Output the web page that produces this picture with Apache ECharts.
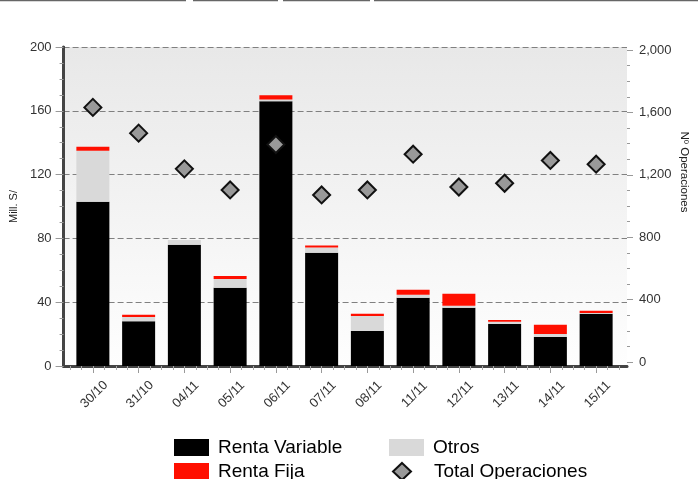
<!DOCTYPE html>
<html>
<head>
<meta charset="utf-8">
<script src="https://cdn.jsdelivr.net/npm/echarts@6/dist/echarts.min.js"></script>
<style>
  html, body { margin: 0; padding: 0; background: #fff; }
  #chart { width: 698px; height: 479px; }
</style>
</head>
<body>
<div id="chart"></div>
<script>
// datos
var fechas = ['30/10', '31/10', '04/11', '05/11', '06/11', '07/11', '08/11', '11/11', '12/11', '13/11', '14/11', '15/11'];
var rentaVariable = [103, 28, 76, 49, 166, 71, 22, 42.8, 36.5, 26.4, 18.2, 32.7];
var otros = [32, 2.7, 3, 5.6, 1.1, 3.3, 9.4, 1.9, 1.2, 1.3, 1.9, 0.6];
var rentaFija = [2.5, 1.5, 0, 1.9, 2.7, 1.3, 1.3, 3.1, 7.6, 1.2, 5.7, 1.3];
var totalOperaciones = [1632, 1467, 1238, 1103, 1394, 1071, 1103, 1332, 1122, 1146, 1292, 1268];
var ticksMillones = [0, 200, 40];
var ticksOperaciones = [0, 2000, 400];

var fuente = 'Liberation Sans, Arial, sans-serif';
var myChart = echarts.init(document.getElementById('chart'));

/*una leyenda por item, para fijar las columnas*/
function leyenda(nombre, left, top, icono, ancho, sangria) {
    return {
        left: left, top: top, padding: 0,
        itemWidth: ancho, itemHeight: 17,
        icon: icono,
        textStyle: { fontSize: 19, color: '#000', padding: [0, 0, 0, sangria] },
        data: [nombre]
    };
}

var option = {
    animation: false,
    textStyle: { fontFamily: fuente },
    graphic: [
        { type: 'line', shape: { x1: 0, y1: 0.5, x2: 186, y2: 0.5 }, style: { stroke: '#666', lineWidth: 1.5 } },
        { type: 'line', shape: { x1: 193, y1: 0.5, x2: 278, y2: 0.5 }, style: { stroke: '#666', lineWidth: 1.5 } },
        { type: 'line', shape: { x1: 283, y1: 0.5, x2: 370, y2: 0.5 }, style: { stroke: '#666', lineWidth: 1.5 } },
        { type: 'line', shape: { x1: 374, y1: 0.5, x2: 698, y2: 0.5 }, style: { stroke: '#666', lineWidth: 1.5 } },
        {
            type: 'text', x: 684, y: 172, rotation: -Math.PI / 2,
            style: { text: 'Nº Operaciones', font: '11.5px ' + fuente, fill: '#222', align: 'center', verticalAlign: 'middle' }
        }
    ],
    legend: [
        leyenda('Renta Variable', 174, 438, 'rect', 35, 4),
        leyenda('Renta Fija', 174, 462, 'rect', 35, 4),
        leyenda('Otros', 389, 438, 'rect', 35, 4),
        leyenda('Total Operaciones', 392, 462, 'diamond', 18, 18)
    ],
    grid: [
        // marco con fondo degradado
        {
            left: 61, right: 71, top: 47, bottom: 113, show: true, borderWidth: 0,
            backgroundColor: new echarts.graphic.LinearGradient(0, 0, 0, 1, [
                { offset: 0, color: '#e8e8e8' },
                { offset: 1, color: '#fefefe' }
            ])
        },
        // barras
        { left: 70, right: 79, top: 47, bottom: 113 },
        // rombos (eje derecho)
        { left: 70, right: 79, top: 50, bottom: 117 },
        // ticks menores del eje x
        { left: 70, right: 79, top: 47, bottom: 113 }
    ],
    xAxis: [
        {
            gridIndex: 0, type: 'value', position: 'top', min: 0, max: 1,
            axisLine: { show: true, lineStyle: { color: '#000', width: 1.5 } },
            axisTick: { show: false }, axisLabel: { show: false }, splitLine: { show: false }
        },
        {
            gridIndex: 0, type: 'value', position: 'bottom', min: 0, max: 1,
            axisLine: { show: true, lineStyle: { color: '#444', width: 3 } },
            axisTick: { show: false }, axisLabel: { show: false }, splitLine: { show: false }
        },
        {
            gridIndex: 1, type: 'category', data: fechas,
            axisLine: { show: false },
            axisTick: { show: true, alignWithLabel: true, length: 7, lineStyle: { color: '#999' } },
            axisLabel: {
                rotate: 45, align: 'center', verticalAlign: 'middle', margin: 30,
                fontSize: 13, color: '#333', interval: 0, padding: [0, 0, 0, 4]
            }
        },
        { gridIndex: 2, type: 'category', data: fechas, show: false },
        {
            gridIndex: 3, type: 'value', min: -0.5, max: 11.5, interval: 0.25,
            axisLine: { show: false },
            axisTick: { show: true, length: 4, lineStyle: { color: '#aaa' } },
            axisLabel: { show: false }, splitLine: { show: false }
        }
    ],
    yAxis: [
        {
            gridIndex: 0, type: 'value', position: 'left',
            min: ticksMillones[0], max: ticksMillones[1], interval: ticksMillones[2],
            name: 'Mill. S/', nameLocation: 'middle', nameGap: 42,
            nameTextStyle: { fontSize: 11, color: '#222' },
            axisLine: { show: true, lineStyle: { color: '#555', width: 2 } },
            axisTick: { show: true, length: 8, lineStyle: { color: '#999' } },
            minorTick: { show: true, splitNumber: 4, length: 4, lineStyle: { color: '#999' } },
            axisLabel: { fontSize: 13, color: '#333', margin: 12 },
            splitLine: { show: true, lineStyle: { color: '#808080', type: [6, 3], width: 1 } }
        },
        {
            gridIndex: 0, type: 'value', position: 'right', min: 0, max: 1,
            axisLine: { show: true, lineStyle: { color: '#444', width: 3 } },
            axisTick: { show: false }, axisLabel: { show: false }, splitLine: { show: false }
        },
        { gridIndex: 1, type: 'value', min: ticksMillones[0], max: ticksMillones[1], show: false },
        {
            gridIndex: 2, type: 'value', position: 'right', offset: 8,
            min: ticksOperaciones[0], max: ticksOperaciones[1], interval: ticksOperaciones[2],
            axisLine: { show: false },
            axisTick: { show: true, length: 6, lineStyle: { color: '#999' } },
            minorTick: { show: true, splitNumber: 4, length: 3, lineStyle: { color: '#999' } },
            axisLabel: {
                fontSize: 13, color: '#333', margin: 12,
                formatter: function (v) { return v.toLocaleString('en-US'); }
            },
            splitLine: { show: false }
        },
        { gridIndex: 3, type: 'value', show: false }
    ],
    series: [
        {
            name: 'Renta Variable', type: 'bar', stack: 'montos', xAxisIndex: 2, yAxisIndex: 2,
            barWidth: 33, itemStyle: { color: '#000' }, data: rentaVariable
        },
        {
            name: 'Otros', type: 'bar', stack: 'montos', xAxisIndex: 2, yAxisIndex: 2,
            barWidth: 33, itemStyle: { color: '#d9d9d9' }, data: otros
        },
        {
            name: 'Renta Fija', type: 'bar', stack: 'montos', xAxisIndex: 2, yAxisIndex: 2,
            barWidth: 33, itemStyle: { color: '#ff0f00' }, data: rentaFija
        },
        {
            name: 'Total Operaciones', type: 'scatter', xAxisIndex: 3, yAxisIndex: 3,
            symbol: 'diamond', symbolSize: 17, z: 5,
            itemStyle: { color: '#999', borderColor: '#111', borderWidth: 2, opacity: 1 },
            data: totalOperaciones
        }
    ]
};

myChart.setOption(option);
</script>
</body>
</html>
